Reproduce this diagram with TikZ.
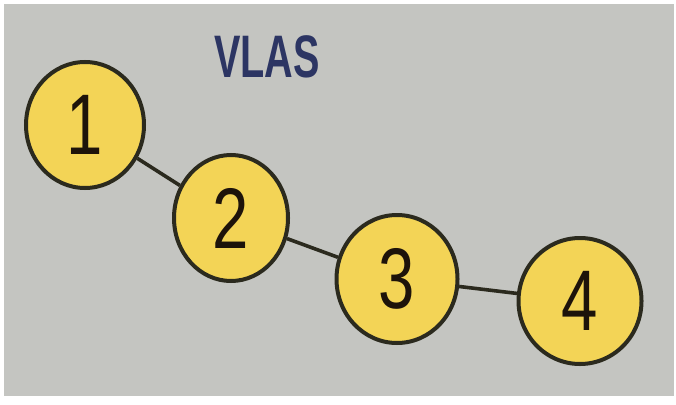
\documentclass[tikz,border=0pt]{standalone}
\usepackage{fontspec}
\setmainfont{Liberation Sans}
\usetikzlibrary{shapes.geometric}
\definecolor{bg}{HTML}{C4C5C1}
\definecolor{ball}{HTML}{F3D456}
\definecolor{edgec}{HTML}{2B2A1E}
\definecolor{title}{HTML}{2C3563}
\begin{document}
\begin{tikzpicture}[x=1pt,y=-1pt,
  ballnode/.style={ellipse,minimum width=118pt,minimum height=126pt,inner sep=0pt,
    fill=ball,draw=edgec,line width=4pt,
    font=\fontsize{86}{86}\selectfont, text=black!85!brown},
  link/.style={draw=edgec,line width=3.6pt}]
\fill[white] (0,0) rectangle (676,404);
\fill[bg] (4,4) rectangle (674,396);
\useasboundingbox (0,0) rectangle (676,404);
\node[text=title,font=\bfseries\fontsize{60}{60}\selectfont,xscale=0.66,inner sep=0pt] (t) at (267,57) {VLAS};
\node[ballnode] (n1) at (85,125) {\scalebox{0.76}[1]{1}};
\node[ballnode,minimum width=114pt] (n2) at (231,218) {\scalebox{0.76}[1]{2}};
\node[ballnode,minimum width=121pt,minimum height=128pt] (n3) at (397,279) {\scalebox{0.76}[1]{3}};
\node[ballnode,minimum width=123pt] (n4) at (580,301) {\scalebox{0.76}[1]{4}};
\draw[link] (n1) -- (n2);
\draw[link] (n2) -- (n3);
\draw[link] (n3) -- (n4);
\end{tikzpicture}
\end{document}
